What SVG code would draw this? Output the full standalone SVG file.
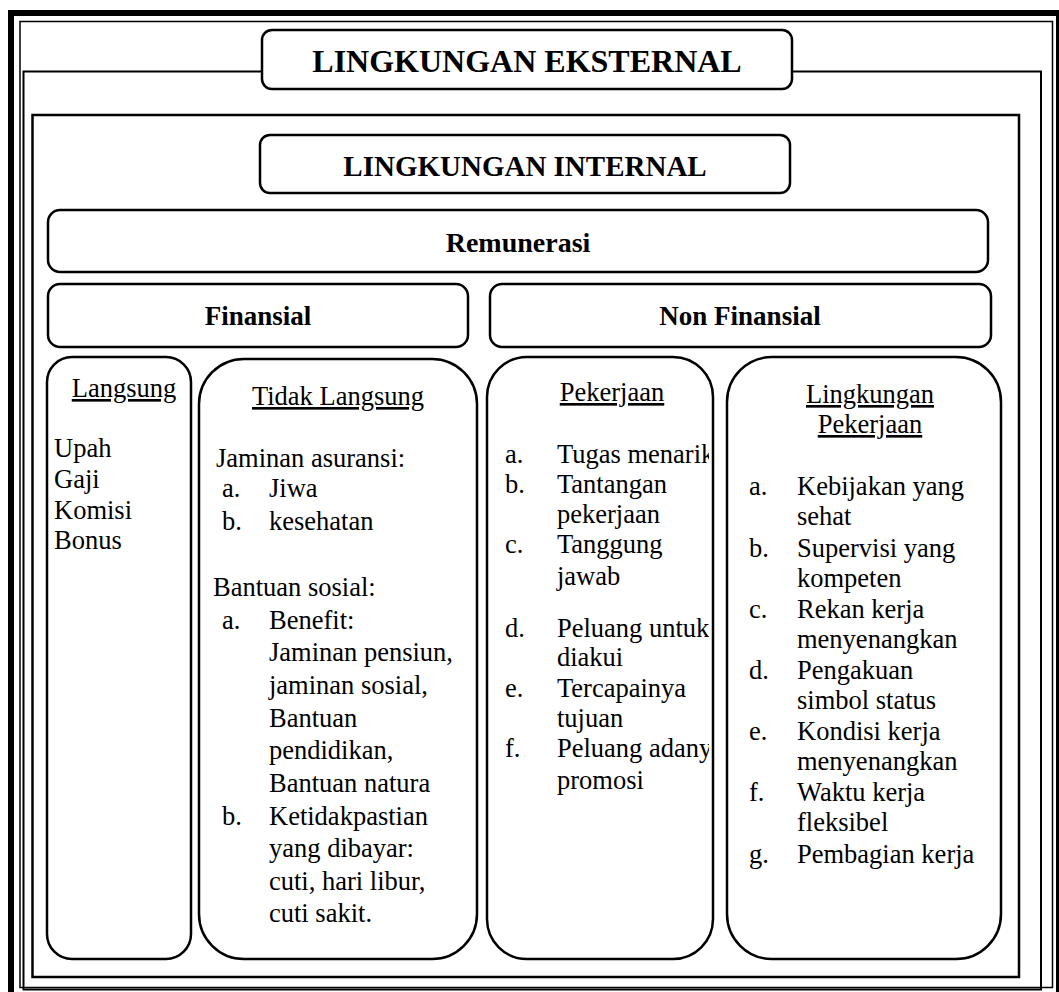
<svg xmlns="http://www.w3.org/2000/svg" width="1059" height="992" viewBox="0 0 1059 992">
<style>
.frame{fill:none;stroke:#000}
.box{fill:#fff;stroke:#000;stroke-width:2.5}
.h{font-family:"Liberation Serif","Times New Roman",serif;font-weight:bold;fill:#000;text-anchor:middle}
.t{font-family:"Liberation Serif","Times New Roman",serif;font-size:26.5px;fill:#000}
.u{text-decoration:underline;text-anchor:middle}
</style>
<defs>
<clipPath id="clipPek"><rect x="487" y="357" width="222" height="602"/></clipPath>
</defs>
<rect width="1059" height="992" fill="#fff"/>
<g id="frames">
<rect class="frame" x="11" y="13" width="1048" height="990" stroke-width="6"/>
<rect class="frame" x="20" y="21.5" width="1032.5" height="966" stroke-width="1.5"/>
<rect class="frame" x="23.5" y="71.5" width="1017.5" height="918" stroke-width="2"/>
<rect class="frame" x="32.5" y="115" width="986.5" height="862" stroke-width="2.5"/>
</g>
<g id="connectors"></g>
<g id="eksternal">
<rect class="box" x="262" y="30" width="530" height="59" rx="10"/>
<text class="h" x="527" y="72" font-size="32">LINGKUNGAN EKSTERNAL</text>
</g>
<g id="internal">
<rect class="box" x="260" y="135" width="530" height="58" rx="10"/>
<text class="h" x="525" y="176" font-size="29">LINGKUNGAN INTERNAL</text>
</g>
<g id="remunerasi">
<rect class="box" x="48" y="210" width="940" height="62" rx="12"/>
<text class="h" x="518" y="252" font-size="28">Remunerasi</text>
</g>
<g id="finansial">
<rect class="box" x="48" y="284" width="420" height="63" rx="12"/>
<text class="h" x="258" y="325" font-size="27">Finansial</text>
</g>
<g id="nonfinansial">
<rect class="box" x="490" y="284" width="501" height="63" rx="12"/>
<text class="h" x="740" y="325" font-size="27">Non Finansial</text>
</g>
<g id="langsung">
<rect class="box" x="47" y="357" width="144" height="602" rx="25"/>
<text class="t u" x="124" y="397">Langsung</text>
<text class="t" x="54" y="457">Upah</text>
<text class="t" x="54" y="488">Gaji</text>
<text class="t" x="54" y="519">Komisi</text>
<text class="t" x="54" y="549">Bonus</text>
</g>
<g id="tidaklangsung">
<rect class="box" x="199" y="359" width="278" height="600" rx="45"/>
<text class="t u" x="338" y="405">Tidak Langsung</text>
<text class="t" x="216" y="467">Jaminan asuransi:</text>
<text class="t" x="222" y="497">a.</text><text class="t" x="269" y="497">Jiwa</text>
<text class="t" x="222" y="530">b.</text><text class="t" x="269" y="530">kesehatan</text>
<text class="t" x="213" y="596">Bantuan sosial:</text>
<text class="t" x="222" y="629">a.</text><text class="t" x="269" y="629">Benefit:</text>
<text class="t" x="269" y="661">Jaminan pensiun,</text>
<text class="t" x="269" y="694">jaminan sosial,</text>
<text class="t" x="269" y="727">Bantuan</text>
<text class="t" x="269" y="759">pendidikan,</text>
<text class="t" x="269" y="792">Bantuan natura</text>
<text class="t" x="222" y="825">b.</text><text class="t" x="269" y="825">Ketidakpastian</text>
<text class="t" x="269" y="857">yang dibayar:</text>
<text class="t" x="269" y="890">cuti, hari libur,</text>
<text class="t" x="269" y="922">cuti sakit.</text>
</g>
<g id="pekerjaan">
<rect class="box" x="487" y="357" width="226" height="602" rx="40"/>
<text class="t u" x="612" y="401">Pekerjaan</text>
<g clip-path="url(#clipPek)">
<text class="t" x="505" y="463">a.</text><text class="t" x="557" y="463">Tugas menarik</text>
<text class="t" x="505" y="493">b.</text><text class="t" x="557" y="493">Tantangan</text>
<text class="t" x="557" y="523">pekerjaan</text>
<text class="t" x="505" y="553">c.</text><text class="t" x="557" y="553">Tanggung</text>
<text class="t" x="557" y="585">jawab</text>
<text class="t" x="505" y="637">d.</text><text class="t" x="557" y="637">Peluang untuk</text>
<text class="t" x="557" y="666">diakui</text>
<text class="t" x="505" y="697">e.</text><text class="t" x="557" y="697">Tercapainya</text>
<text class="t" x="557" y="727">tujuan</text>
<text class="t" x="505" y="757">f.</text><text class="t" x="557" y="757">Peluang adanya</text>
<text class="t" x="557" y="789">promosi</text>
</g>
</g>
<g id="lingkunganpekerjaan">
<rect class="box" x="727" y="357" width="274" height="602" rx="45"/>
<text class="t u" x="870" y="403">Lingkungan</text>
<text class="t u" x="870" y="433">Pekerjaan</text>
<text class="t" x="749" y="495">a.</text><text class="t" x="797" y="495">Kebijakan yang</text>
<text class="t" x="797" y="525">sehat</text>
<text class="t" x="749" y="557">b.</text><text class="t" x="797" y="557">Supervisi yang</text>
<text class="t" x="797" y="587">kompeten</text>
<text class="t" x="749" y="618">c.</text><text class="t" x="797" y="618">Rekan kerja</text>
<text class="t" x="797" y="648">menyenangkan</text>
<text class="t" x="749" y="679">d.</text><text class="t" x="797" y="679">Pengakuan</text>
<text class="t" x="797" y="709">simbol status</text>
<text class="t" x="749" y="740">e.</text><text class="t" x="797" y="740">Kondisi kerja</text>
<text class="t" x="797" y="770">menyenangkan</text>
<text class="t" x="749" y="801">f.</text><text class="t" x="797" y="801">Waktu kerja</text>
<text class="t" x="797" y="831">fleksibel</text>
<text class="t" x="749" y="863">g.</text><text class="t" x="797" y="863">Pembagian kerja</text>
</g>
</svg>
